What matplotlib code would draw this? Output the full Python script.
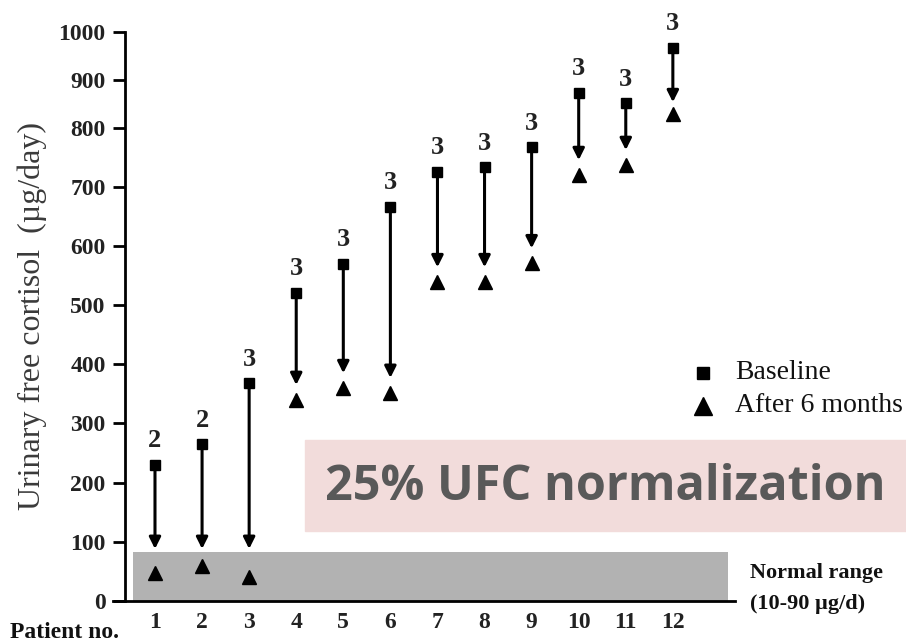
import numpy as np
import matplotlib.pyplot as plt

# values
patients = np.arange(1, 13)
baseline = [230, 265, 368, 521, 570, 666, 725, 733, 767, 873, 851, 967]
after_6m = [47, 59, 41, 340, 360, 352, 539, 539, 571, 720, 737, 828]
n_labels = ['2', '2', '3', '3', '3', '3', '3', '3', '3', '3', '3', '3']
yticks = [0, 100, 200, 300, 400, 500, 600, 700, 800, 900, 1000]
normal_top = 83

serif = 'Liberation Serif'

# the original axis is squeezed above 800
def fwd(y):
    y = np.asarray(y, dtype=float)
    return np.where(y <= 800, y, 800 + (y - 800) * 0.81)

def inv(y):
    y = np.asarray(y, dtype=float)
    return np.where(y <= 800, y, 800 + (y - 800) / 0.81)

fig = plt.figure(figsize=(9.06, 6.44), dpi=100)
ax = fig.add_axes([125 / 906, 43 / 644, 610 / 906, 569.3 / 644])
ax.set_yscale('function', functions=(fwd, inv))
ax.set_ylim(0, 1000)
ax.set_xlim(0.363, 13.32)

# normal range band
ax.fill_between([0.53, 13.17], 0, normal_top, color='#b2b2b2', lw=0, zorder=1)

for x, b, a, lab in zip(patients, baseline, after_6m, n_labels):
    tip = max(a + 25, normal_top + 5)
    ax.annotate('', xy=(x, tip), xytext=(x, b),
                arrowprops=dict(arrowstyle='-|>', color='black', lw=2.2,
                                mutation_scale=17, shrinkA=0, shrinkB=0),
                zorder=3)
    ax.annotate(lab, xy=(x, b), xytext=(0, 9), textcoords='offset points',
                ha='center', va='bottom', fontsize=19, fontweight='bold',
                family=serif, color='#222222')

ax.plot(patients, baseline, 's', color='black', ms=7, zorder=4)
ax.plot(patients, after_6m, '^', color='black', ms=10, zorder=4)

for s in ['top', 'right']:
    ax.spines[s].set_visible(False)
ax.spines['left'].set_linewidth(2)
ax.spines['bottom'].set_linewidth(2)
ax.spines['bottom'].set_bounds(0.11, 13.32)
ax.set_yticks(yticks)
ax.set_yticklabels([str(t) for t in yticks], fontsize=17, fontweight='bold',
                   family=serif, color='#222222')
ax.tick_params(axis='y', length=9, width=2, direction='out', pad=5)
ax.set_xticks(patients)
ax.set_xticklabels([str(p) for p in patients], fontsize=17, fontweight='bold',
                   family=serif, color='#222222')
ax.tick_params(axis='x', length=0, pad=8)
ax.set_ylabel('Urinary free cortisol  (\u00b5g/day)', fontsize=23,
              family=serif, color='#3a3a3a', labelpad=8)

fig.text(10 / 906, 1 - 633 / 644, 'Patient no.', fontsize=17, fontweight='bold',
         family=serif, color='#111111', va='center', ha='left')

# legend
ax_l = fig.transFigure
fig.lines.append(plt.Line2D([703 / 906], [1 - 373 / 644], marker='s', ms=9,
                            color='black', transform=ax_l, ls=''))
fig.lines.append(plt.Line2D([703 / 906], [1 - 406 / 644], marker='^', ms=13,
                            color='black', transform=ax_l, ls=''))
fig.text(735 / 906, 1 - 373 / 644, 'Baseline', fontsize=20, family=serif,
         color='#111111', va='center')
fig.text(735 / 906, 1 - 406 / 644, 'After 6 months', fontsize=20, family=serif,
         color='#111111', va='center')

fig.text(750 / 906, 1 - 573 / 644, 'Normal range', fontsize=16, fontweight='bold',
         family=serif, color='#111111', va='center')
fig.text(750 / 906, 1 - 604 / 644, '(10-90 \u00b5g/d)', fontsize=16,
         fontweight='bold', family=serif, color='#111111', va='center')

# pink overlay
fig.patches.append(plt.Rectangle((305 / 906, 1 - 531 / 644), 601 / 906, 91 / 644,
                                 transform=fig.transFigure, color='#f2dcdb',
                                 zorder=5))
fig.text(605 / 906, 1 - 487 / 644, '25% UFC normalization', fontsize=35,
         fontweight='bold', family='Open Sans', color='#595959',
         ha='center', va='center', zorder=6)

fig.savefig('out.png', dpi=100)
